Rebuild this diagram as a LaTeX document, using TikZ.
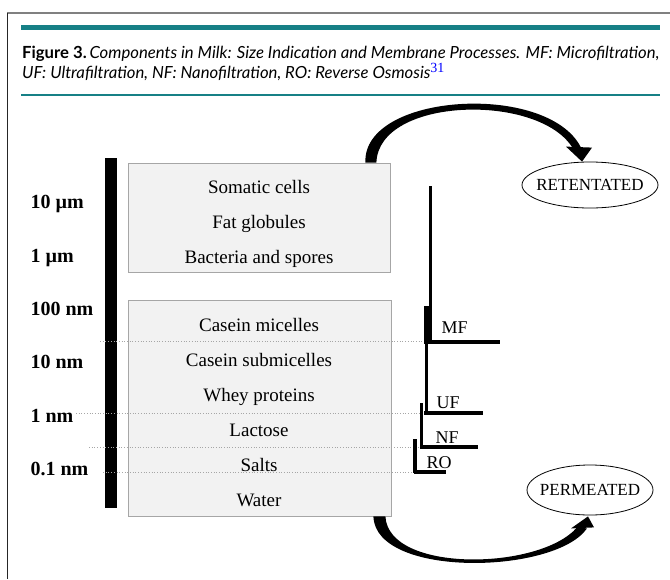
\documentclass[tikz,border=0pt]{standalone}
\usepackage{fontspec}
\setmainfont{Liberation Serif}
\newfontfamily\capfont{Lato}
\usetikzlibrary{shapes.geometric,calc}
\definecolor{capteal}{RGB}{22,128,134}
\definecolor{boxgray}{RGB}{242,242,242}
\tikzset{
  comp/.style={anchor=base, font=\fontsize{19}{19}\selectfont},
  scalelbl/.style={anchor=base west, font=\fontsize{20}{20}\selectfont\bfseries},
  memlbl/.style={anchor=base west, font=\fontsize{18}{18}\selectfont},
  sizebox/.style={draw=gray!70, fill=boxgray, line width=0.8pt, inner sep=0pt},
  outflow/.style={draw, ellipse, line width=0.8pt, inner sep=0pt},
  cutline/.style={gray!70, dotted, line width=0.7pt},
  memline/.style={line width=3.5pt}
}
\begin{document}
\begin{tikzpicture}[x=1pt, y=-1pt]
  \useasboundingbox (0,0) rectangle (670,579);

  % Frame and caption
  \draw [gray, line width=1.2pt] (7,13) -- (670,13);
  \draw [black!85, line width=1.2pt] (7.5,13) -- (7.5,579);
  \draw [capteal, line width=4.5pt] (21,27.5) -- (660,27.5);
  \draw [capteal, line width=1.3pt] (21,95) -- (660,95);
  \node [anchor=base west, inner sep=0pt, font=\capfont\fontsize{16.7}{16.7}\selectfont]
        (cap1) at (22,58) {\textbf{Figure 3.}\,\itshape Components in Milk: Size Indication and Membrane Processes. MF: Microfiltration,};
  \node [anchor=base west, inner sep=0pt, font=\capfont\fontsize{16.7}{16.7}\selectfont]
        (cap2) at (22,78) {\itshape UF: Ultrafiltration, NF: Nanofiltration, RO: Reverse Osmosis\raisebox{6pt}{\color{blue}\rmfamily\upshape\fontsize{14}{14}\selectfont 31}};

  % Size scale
  \fill (105,158) rectangle (117,508);
  \node [scalelbl] (s1) at (27,208) {10 µm};
  \node [scalelbl] (s2) at (27,262) {1 µm};
  \node [scalelbl] (s3) at (27,315) {100 nm};
  \node [scalelbl] (s4) at (27,368) {10 nm};
  \node [scalelbl] (s5) at (27,422) {1 nm};
  \node [scalelbl] (s6) at (27,475) {0.1 nm};

  % Upper box
  \node [sizebox, minimum width=262pt, minimum height=109pt] (upper) at (259,217.5) {};
  \node [comp] (somatic) at (259,193) {Somatic cells};
  \node [comp] (fat) at (259,228) {Fat globules};
  \node [comp] (bact) at (259,263) {Bacteria and spores};

  % Lower box
  \node [sizebox, minimum width=263pt, minimum height=216pt] (lower) at (259.5,408) {};
  \node [comp] (casein) at (259,331) {Casein micelles};
  \node [comp] (subm) at (259,366) {Casein submicelles};
  \node [comp] (whey) at (259,401) {Whey proteins};
  \node [comp] (lact) at (259,436) {Lactose};
  \node [comp] (salts) at (259,471) {Salts};
  \node [comp] (water) at (259,506) {Water};

  % Cut-off lines
  \draw [cutline] (100,341) -- (425,341);
  \draw [cutline] (76,413) -- (424,413);
  \draw [cutline] (89,447) -- (420,447);
  \draw [cutline] (103,472) -- (414,472);

  % Membranes
  \draw [line width=3pt] (430.5,186) -- (430.5,342);
  \draw [line width=7pt] (427.5,306) -- (427.5,342);
  \draw [memline] (424,342) -- (500,342);
  \draw [line width=3pt] (426,342) -- (426,413);
  \draw [memline] (424,413) -- (483,413);
  \draw [memline] (421.5,403) -- (421.5,447);
  \draw [memline] (420,447) -- (478,447);
  \draw [memline] (415,439) -- (415,473);
  \draw [memline] (413.5,472) -- (446,472);
  \node [memlbl] (mf) at (438,333) {MF};
  \node [memlbl] (uf) at (433,408) {UF};
  \node [memlbl] (nf) at (432,443) {NF};
  \node [memlbl] (ro) at (423,468) {RO};

  % Outlets
  \node [outflow, minimum width=136pt, minimum height=46pt] (ret) at (590,185) {};
  \node [font=\fontsize{17}{17}\selectfont] (rettext) at (ret.center) {RETENTATED};
  \node [outflow, minimum width=126pt, minimum height=50pt] (perm) at (590,490) {};
  \node [font=\fontsize{17}{17}\selectfont] (permtext) at (perm.center) {PERMEATED};

  % Flows
  \fill ($(upper.north east)+(-25,0)$) .. controls +(-3,-70) and +(-33,-66) ..
        ($(ret.north)+(-9,-14)$) -- ($(ret.north)+(-17,-13)$)
        .. controls +(-33,-56) and +(2,-66) .. ($(upper.north east)+(-14,0)$) -- cycle;
  \fill ($(ret.north)+(-24,-15)$) -- ($(ret.north)+(2,-14)$) -- ($(ret.north)+(-8,0)$) -- cycle;
  \fill ($(lower.south east)+(-18,0)$) .. controls +(2,62) and +(-32,46) ..
        ($(perm.south)+(-3,13)$) -- ($(perm.south)+(-13,12)$)
        .. controls +(-37,43) and +(3,57) .. ($(lower.south east)+(-6,0)$) -- cycle;
  \fill ($(perm.south)+(-19,13)$) -- ($(perm.south)+(4,12)$) -- ($(perm.south)+(-2,1)$) -- cycle;
\end{tikzpicture}
\end{document}
